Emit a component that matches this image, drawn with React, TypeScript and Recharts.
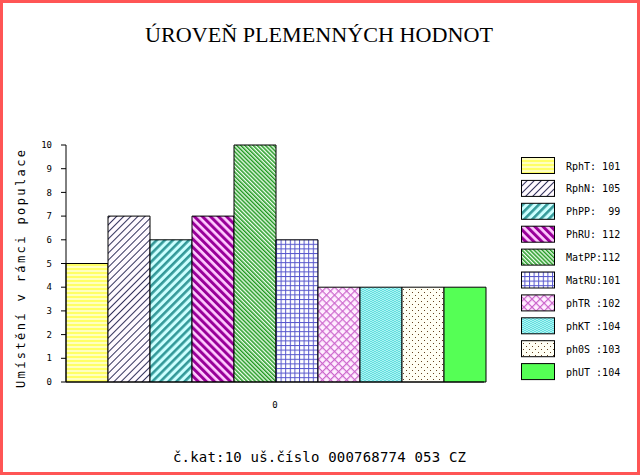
import { BarChart, Bar, XAxis, YAxis } from "recharts"

const traits = ["RphT", "RphN", "PhPP", "PhRU", "MatPP", "MatRU", "phTR", "phKT", "ph0S", "phUT"]
const placement = [5, 7, 6, 7, 10, 6, 4, 4, 4, 4]
const legendLabels = [
  "RphT: 101",
  "RphN: 105",
  "PhPP:  99",
  "PhRU: 112",
  "MatPP:112",
  "MatRU:101",
  "phTR :102",
  "phKT :104",
  "ph0S :103",
  "phUT :104",
]
const yTicks = [0, 1, 2, 3, 4, 5, 6, 7, 8, 9, 10]
const category = "0"

const title = "ÚROVEŇ PLEMENNÝCH HODNOT"
const yLabel = "Umístění v rámci populace"
const footer = "č.kat:10 uš.číslo 000768774 053 CZ"

const row: Record<string, string | number> = { name: category }
traits.forEach((t, i) => {
  row[t] = placement[i]
})
const data = [row]

const mono = "'DejaVu Sans Mono', monospace"

function Patterns() {
  return (
    <defs>
      <pattern id="p0" width="4" height="4" patternUnits="userSpaceOnUse">
        <rect width="4" height="4" fill="#ffffc0" />
        <rect width="4" height="2" fill="#ffff66" />
      </pattern>
      <pattern id="p1" width="5" height="5" patternUnits="userSpaceOnUse" patternTransform="rotate(45)">
        <rect width="5" height="5" fill="#fffaff" />
        <rect width="0.8" height="5" fill="#000033" />
      </pattern>
      <pattern id="p2" width="5.7" height="5.7" patternUnits="userSpaceOnUse" patternTransform="rotate(45)">
        <rect width="5.7" height="5.7" fill="#ccffff" />
        <rect width="2.6" height="5.7" fill="#339999" />
      </pattern>
      <pattern id="p3" width="5.7" height="5.7" patternUnits="userSpaceOnUse" patternTransform="rotate(-45)">
        <rect width="5.7" height="5.7" fill="#ffccff" />
        <rect width="3" height="5.7" fill="#990099" />
      </pattern>
      <pattern id="p4" width="2.9" height="2.9" patternUnits="userSpaceOnUse" patternTransform="rotate(-45)">
        <rect width="2.9" height="2.9" fill="#f0fff0" />
        <rect width="1.5" height="2.9" fill="#229922" />
      </pattern>
      <pattern id="p5" width="4.6" height="4.6" patternUnits="userSpaceOnUse">
        <rect width="4.6" height="4.6" fill="#ffffff" />
        <rect width="1" height="4.6" fill="#5555cc" />
        <rect width="4.6" height="1" fill="#5555cc" />
      </pattern>
      <pattern id="p6" width="5.7" height="5.7" patternUnits="userSpaceOnUse" patternTransform="rotate(45)">
        <rect width="5.7" height="5.7" fill="#ffeeff" />
        <rect width="1.2" height="5.7" fill="#cc66cc" />
        <rect width="5.7" height="1.2" fill="#cc66cc" />
      </pattern>
      <pattern id="p7" width="4" height="2" patternUnits="userSpaceOnUse">
        <rect width="4" height="2" fill="#aaf4f4" />
        <rect x="0" y="0" width="2" height="1" fill="#66dddd" />
        <rect x="2" y="1" width="2" height="1" fill="#66dddd" />
      </pattern>
      <pattern id="p8" width="6" height="6" patternUnits="userSpaceOnUse">
        <rect width="6" height="6" fill="#fffff4" />
        <rect x="1" y="1" width="1" height="1" fill="#664422" />
        <rect x="4" y="4" width="1" height="1" fill="#664422" />
      </pattern>
      <pattern id="p9" width="4" height="4" patternUnits="userSpaceOnUse">
        <rect width="4" height="4" fill="#55ff55" />
      </pattern>
    </defs>
  )
}

export default function App() {
  return (
    <div style={{ position: "absolute", left: 0, top: 0, width: 640, height: 475, background: "#fff" }}>
      <svg width={0} height={0} style={{ position: "absolute" }}>
        <Patterns />
      </svg>
      <div style={{ position: "absolute", left: 0, top: 0 }}>
        <BarChart
          width={640}
          height={475}
          data={data}
          margin={{ top: 145, right: 156, bottom: 63, left: 16 }}
          barCategoryGap={0}
          barGap={0}
        >
          <XAxis
            dataKey="name"
            height={30}
            stroke="#000"
            tickLine={false}
            tickSize={0}
            tickMargin={20}
            tick={{ fill: "#000", fontSize: 9, fontFamily: mono }}
          />
          <YAxis
            width={50}
            domain={[0, 10]}
            ticks={yTicks}
            stroke="#000"
            tickSize={5}
            tickMargin={9}
            tick={{ fill: "#000", fontSize: 9, fontFamily: mono }}
          />
          {traits.map((t, i) => (
            <Bar
              key={t}
              dataKey={t}
              fill={`url(#p${i})`}
              stroke="#000"
              strokeWidth={1}
              isAnimationActive={false}
            />
          ))}
        </BarChart>
      </div>
      <svg
        width={640}
        height={475}
        style={{ position: "absolute", left: 0, top: 0, pointerEvents: "none" }}
      >
        <text
          x={145}
          y={42}
          fontFamily="'Liberation Serif', serif"
          fontSize={22}
          textLength={348}
          lengthAdjust="spacingAndGlyphs"
          fill="#000"
        >
          {title}
        </text>
        <text
          x={0}
          y={0}
          transform="translate(25,388) rotate(-90)"
          fontFamily={mono}
          fontSize={12}
          textLength={238}
          lengthAdjust="spacing"
          fill="#000"
        >
          {yLabel}
        </text>
        <text
          x={173}
          y={462}
          fontFamily={mono}
          fontSize={14}
          textLength={293}
          lengthAdjust="spacing"
          fill="#000"
        >
          {footer}
        </text>
        {legendLabels.map((label, i) => {
          const y = 157.5 + i * 22.9
          return (
            <g key={traits[i]}>
              <rect x={521.5} y={y} width={33} height={16} fill={`url(#p${i})`} stroke="#000" strokeWidth={1} />
              <text x={566} y={y + 12} fontFamily={mono} fontSize={10} fill="#000" style={{ whiteSpace: "pre" }}>
                {label}
              </text>
            </g>
          )
        })}
      </svg>
      <div
        style={{
          position: "absolute",
          left: 0,
          top: 0,
          width: 640,
          height: 475,
          boxSizing: "border-box",
          border: "3px solid #f55",
          pointerEvents: "none",
        }}
      />
    </div>
  )
}
